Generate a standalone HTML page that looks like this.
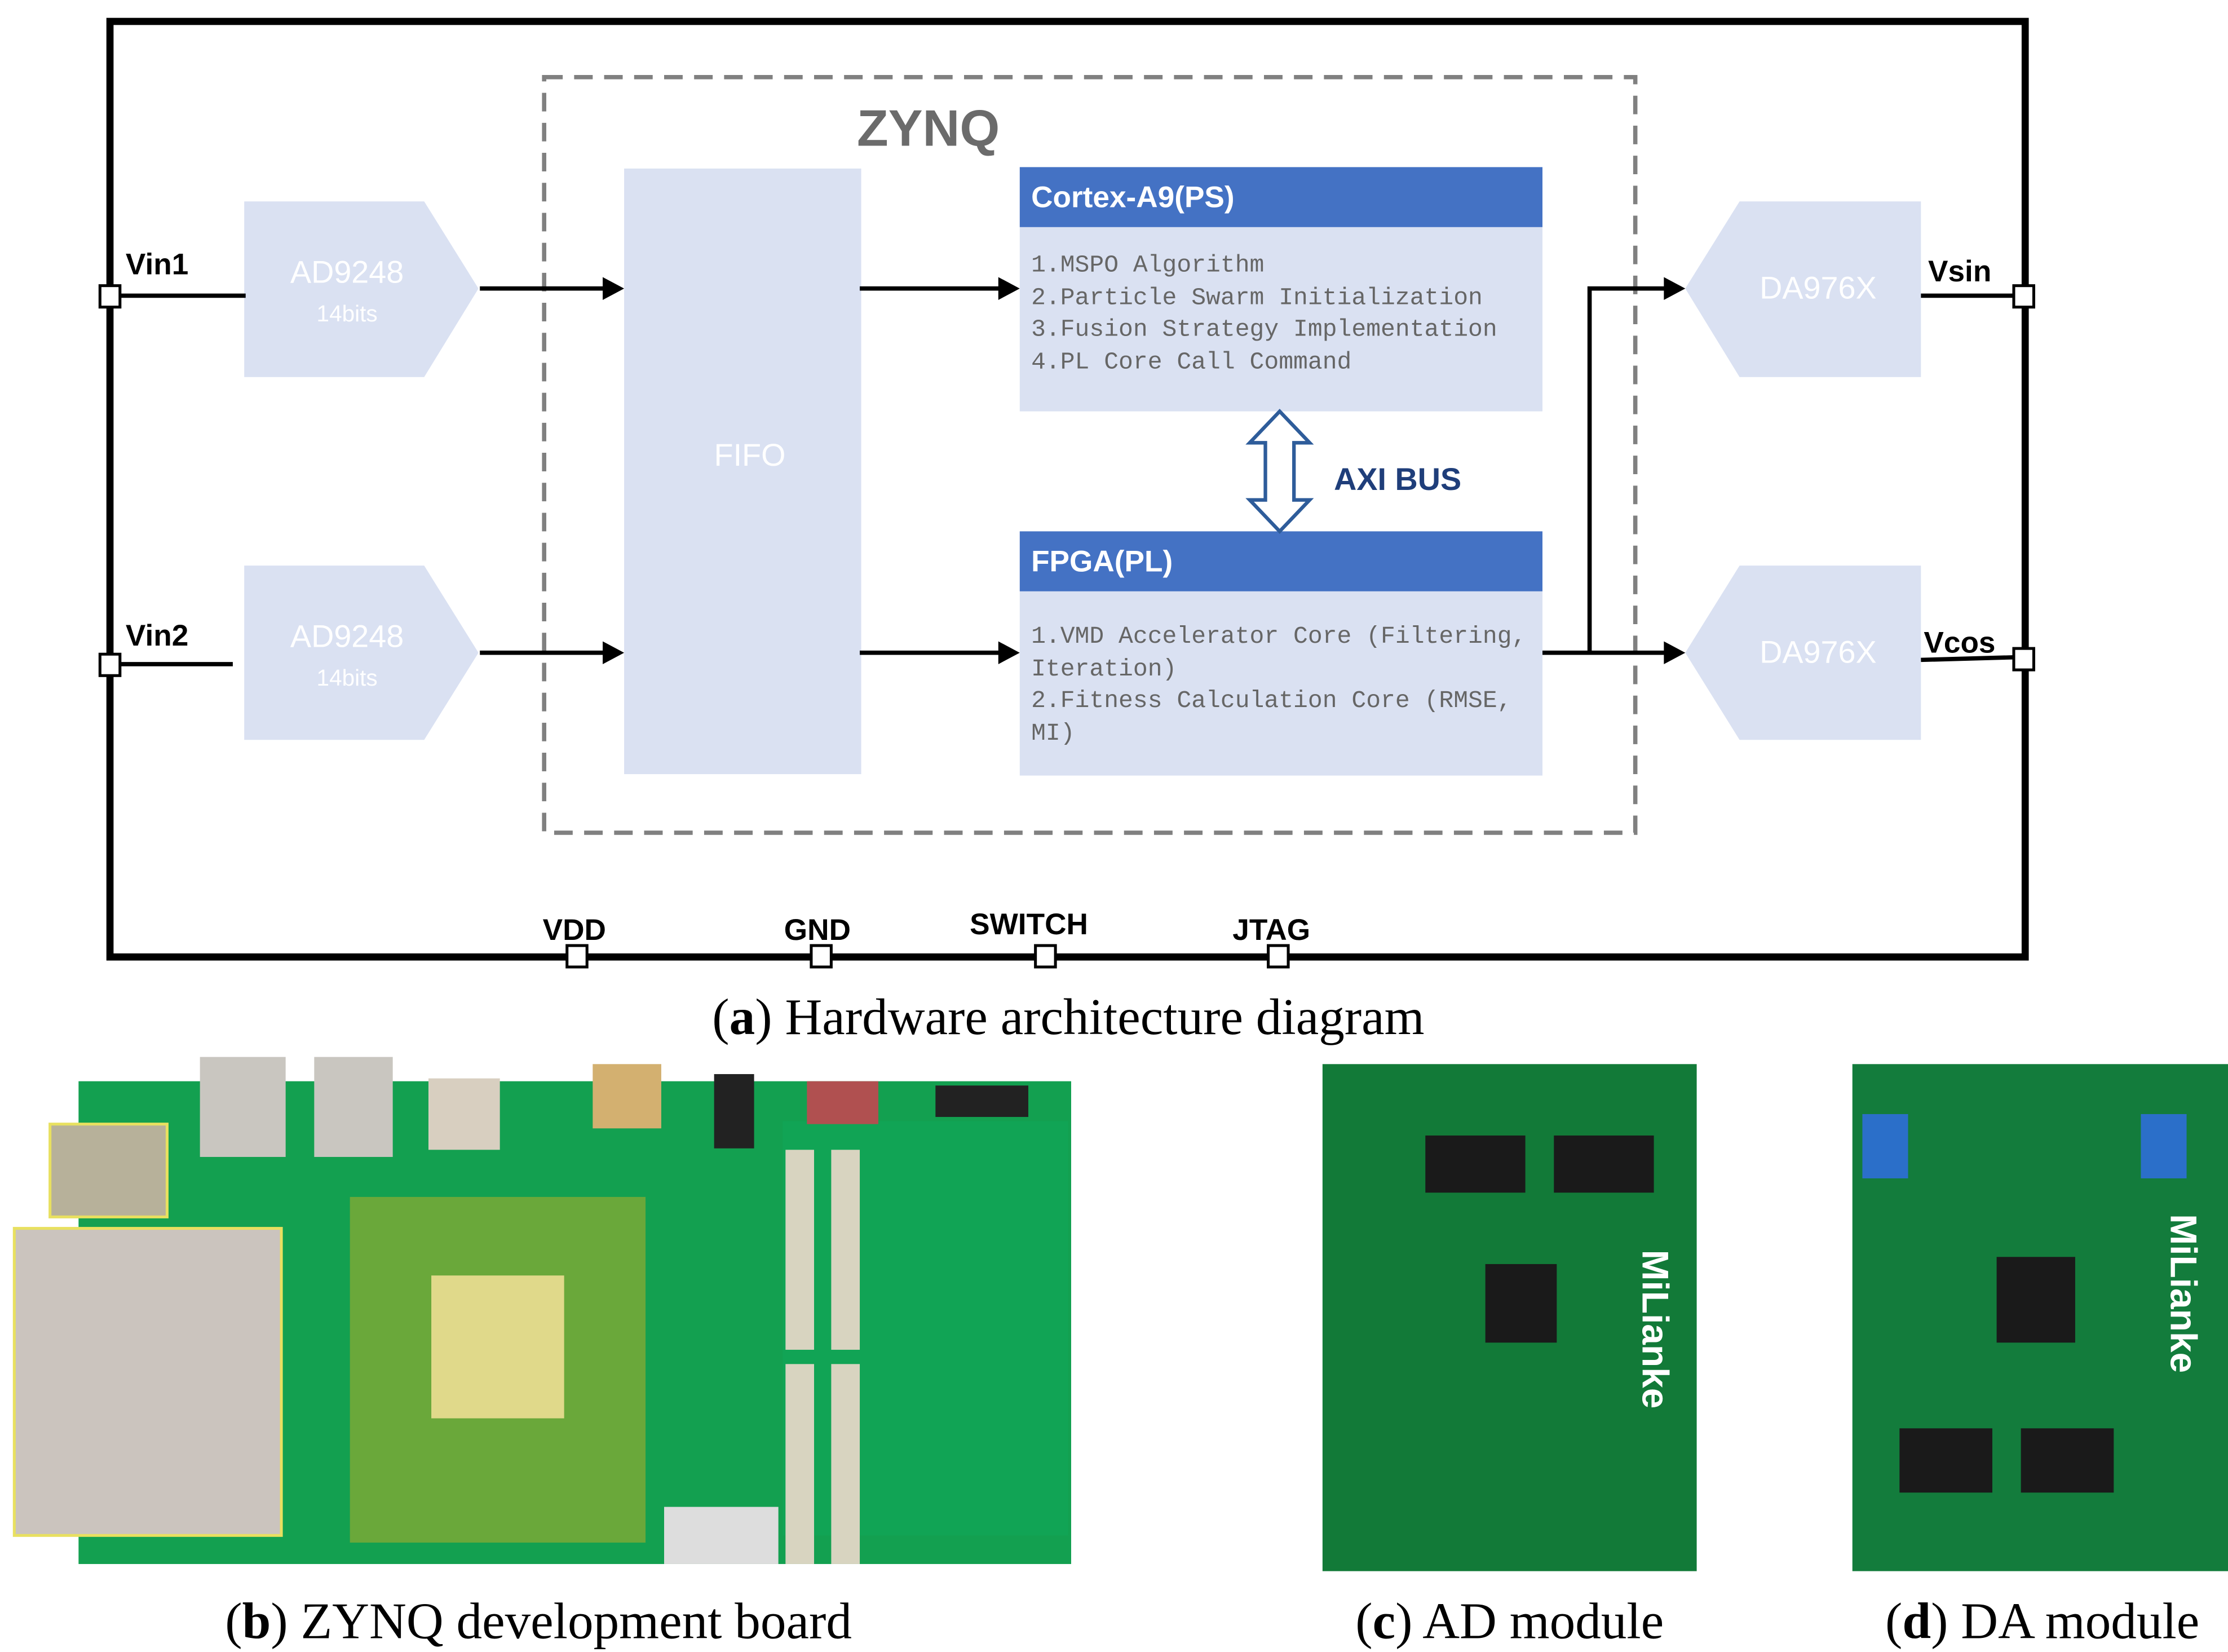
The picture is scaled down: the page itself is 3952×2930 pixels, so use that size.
<!DOCTYPE html>
<html><head><meta charset="utf-8"><style>
html,body{margin:0;padding:0;background:#fff}
svg{display:block}
</style></head><body>
<svg width="3952" height="2930" viewBox="0 0 1560 1156.6" preserveAspectRatio="none" xmlns="http://www.w3.org/2000/svg" font-family="Liberation Sans, sans-serif">
<rect width="1560" height="1157" fill="#fff"/>
<rect x="77" y="15" width="1341" height="655" fill="none" stroke="#000" stroke-width="5"/>
<rect x="381" y="54" width="764" height="529" fill="none" stroke="#808080" stroke-width="3" stroke-dasharray="13,8"/>
<text x="600" y="102" font-size="36" fill="#6b6b6b" font-weight="bold">ZYNQ</text>
<polygon points="171,141 297,141 335,202 297,264 171,264" fill="#dae1f2"/>
<polygon points="171,396 297,396 335,457 297,518 171,518" fill="#dae1f2"/>
<text x="243" y="198" font-size="22" fill="#fff" text-anchor="middle">AD9248</text>
<text x="243" y="225" font-size="16" fill="#fff" text-anchor="middle">14bits</text>
<text x="243" y="453" font-size="22" fill="#fff" text-anchor="middle">AD9248</text>
<text x="243" y="480" font-size="16" fill="#fff" text-anchor="middle">14bits</text>
<rect x="437" y="118" width="166" height="424" fill="#dae1f2"/>
<text x="525" y="326" font-size="22" fill="#fff" text-anchor="middle">FIFO</text>
<rect x="714" y="159" width="366" height="129" fill="#dae1f2"/>
<rect x="714" y="117" width="366" height="42" fill="#4472c4"/>
<text x="722" y="145" font-size="21" fill="#fff" font-weight="bold">Cortex-A9(PS)</text>
<g font-size="17" fill="#666" font-family="Liberation Mono, monospace">
<text x="722" y="190">1.MSPO Algorithm</text>
<text x="722" y="213">2.Particle Swarm Initialization</text>
<text x="722" y="235">3.Fusion Strategy Implementation</text>
<text x="722" y="258">4.PL Core Call Command</text>
</g>
<rect x="714" y="414" width="366" height="129" fill="#dae1f2"/>
<rect x="714" y="372" width="366" height="42" fill="#4472c4"/>
<text x="722" y="400" font-size="21" fill="#fff" font-weight="bold">FPGA(PL)</text>
<g font-size="17" fill="#666" font-family="Liberation Mono, monospace">
<text x="722" y="450">1.VMD Accelerator Core (Filtering,</text>
<text x="722" y="473">Iteration)</text>
<text x="722" y="495">2.Fitness Calculation Core (RMSE,</text>
<text x="722" y="518">MI)</text>
</g>
<polygon points="896,288 917,310 906,310 906,350 917,350 896,372 875,350 886,350 886,310 875,310" fill="#fff" stroke="#2e5c9a" stroke-width="2.5"/>
<text x="934" y="343" font-size="22" fill="#1f3e7a" font-weight="bold">AXI BUS</text>
<polygon points="1218,141 1345,141 1345,264 1218,264 1180,202" fill="#dae1f2"/>
<polygon points="1218,396 1345,396 1345,518 1218,518 1180,457" fill="#dae1f2"/>
<text x="1273" y="209" font-size="22" fill="#fff" text-anchor="middle">DA976X</text>
<text x="1273" y="464" font-size="22" fill="#fff" text-anchor="middle">DA976X</text>
<g stroke="#000" stroke-width="3" fill="none">
<line x1="336" y1="202" x2="425" y2="202"/><line x1="336" y1="457" x2="425" y2="457"/>
<line x1="602" y1="202" x2="702" y2="202"/><line x1="602" y1="457" x2="702" y2="457"/>
<line x1="1080" y1="457" x2="1168" y2="457"/>
<polyline points="1113,457 1113,202 1168,202"/>
<line x1="77" y1="207" x2="172" y2="207"/><line x1="77" y1="465" x2="163" y2="465"/>
<line x1="1345" y1="207" x2="1417" y2="207"/><line x1="1345" y1="462" x2="1417" y2="460"/>
</g>
<g fill="#000">
<polygon points="437,202 422,194 422,210"/><polygon points="437,457 422,449 422,465"/>
<polygon points="714,202 699,194 699,210"/><polygon points="714,457 699,449 699,465"/>
<polygon points="1180,202 1165,194 1165,210"/><polygon points="1180,457 1165,449 1165,465"/>
</g>
<g fill="#fff" stroke="#000" stroke-width="2">
<rect x="70" y="200" width="14" height="15"/><rect x="70" y="458" width="14" height="15"/>
<rect x="1410" y="200" width="14" height="15"/><rect x="1410" y="454" width="14" height="15"/>
<rect x="397" y="662" width="14" height="15"/><rect x="568" y="662" width="14" height="15"/>
<rect x="725" y="662" width="14" height="15"/><rect x="888" y="662" width="14" height="15"/>
</g>
<g font-size="21" font-weight="bold" fill="#000">
<text x="88" y="192">Vin1</text><text x="88" y="452">Vin2</text>
<text x="1350" y="197">Vsin</text><text x="1347" y="457">Vcos</text>
<text x="380" y="658">VDD</text><text x="549" y="658">GND</text>
<text x="679" y="654">SWITCH</text><text x="863" y="658">JTAG</text>
</g>
<text x="748" y="724" font-size="36" font-family="Liberation Serif, serif" text-anchor="middle">(<tspan font-weight="bold">a</tspan>) Hardware architecture diagram</text>
<g>
<rect x="55" y="757" width="695" height="338" fill="#13a050"/>
<rect x="548" y="785" width="200" height="290" fill="#11a455"/>
<rect x="140" y="740" width="60" height="70" fill="#c9c6c0"/><rect x="220" y="740" width="55" height="70" fill="#c9c6c0"/>
<rect x="300" y="755" width="50" height="50" fill="#d8cfc0"/><rect x="415" y="745" width="48" height="45" fill="#d3b070"/>
<rect x="500" y="752" width="28" height="52" fill="#222"/><rect x="565" y="757" width="50" height="30" fill="#b05050"/>
<rect x="655" y="760" width="65" height="22" fill="#222"/>
<rect x="35" y="787" width="82" height="65" fill="#b7b19a" stroke="#e8e060" stroke-width="2"/>
<rect x="10" y="860" width="187" height="215" fill="#cbc4be" stroke="#e8e060" stroke-width="2"/>
<rect x="245" y="838" width="207" height="242" fill="#6aa83a"/>
<rect x="302" y="893" width="93" height="100" fill="#e0d98a"/>
<rect x="550" y="805" width="20" height="140" fill="#d8d4c0"/><rect x="582" y="805" width="20" height="140" fill="#d8d4c0"/>
<rect x="550" y="955" width="20" height="140" fill="#d8d4c0"/><rect x="582" y="955" width="20" height="140" fill="#d8d4c0"/>
<rect x="465" y="1055" width="80" height="40" fill="#ddd"/>
</g>
<text x="377" y="1147" font-size="36" font-family="Liberation Serif, serif" text-anchor="middle">(<tspan font-weight="bold">b</tspan>) ZYNQ development board</text>
<rect x="926" y="745" width="262" height="355" fill="#127a38"/>
<rect x="998" y="795" width="70" height="40" fill="#1a1a1a"/><rect x="1088" y="795" width="70" height="40" fill="#1a1a1a"/>
<rect x="1040" y="885" width="50" height="55" fill="#1a1a1a"/>
<text x="1150" y="875" font-size="26" fill="#fff" font-weight="bold" transform="rotate(90 1150 875)">MiLianke</text>
<text x="1057" y="1147" font-size="36" font-family="Liberation Serif, serif" text-anchor="middle">(<tspan font-weight="bold">c</tspan>) AD module</text>
<rect x="1297" y="745" width="263" height="355" fill="#137c3c"/>
<rect x="1304" y="780" width="32" height="45" fill="#2b6fc9"/><rect x="1499" y="780" width="32" height="45" fill="#2b6fc9"/>
<rect x="1398" y="880" width="55" height="60" fill="#1a1a1a"/>
<rect x="1330" y="1000" width="65" height="45" fill="#1a1a1a"/><rect x="1415" y="1000" width="65" height="45" fill="#1a1a1a"/>
<text x="1520" y="850" font-size="26" fill="#fff" font-weight="bold" transform="rotate(90 1520 850)">MiLianke</text>
<text x="1430" y="1147" font-size="36" font-family="Liberation Serif, serif" text-anchor="middle">(<tspan font-weight="bold">d</tspan>) DA module</text>
</svg>
</body></html>
